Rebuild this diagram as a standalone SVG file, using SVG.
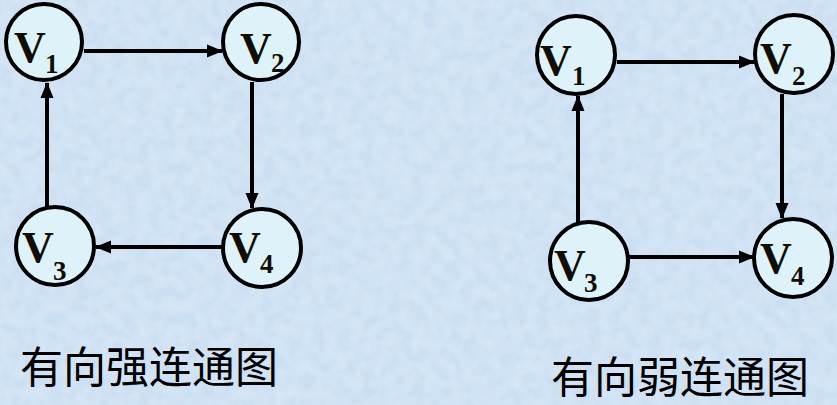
<svg xmlns="http://www.w3.org/2000/svg" width="837" height="405" viewBox="0 0 837 405">
<defs>
<style>
.bg{fill:#cfe2f4}
.node circle{fill:#ddf3f9;stroke:#000;stroke-width:4}
.v{font-family:"Liberation Serif","Times New Roman",serif;font-weight:bold;font-size:44px;fill:#110d05}
.s{font-size:27px}
.edge{stroke:#000;stroke-width:4;fill:none;marker-end:url(#arr)}
.cap{font-family:"Noto Sans CJK SC","Noto Sans",sans-serif;font-size:43px;fill:#000}
</style>
<marker id="arr" markerUnits="userSpaceOnUse" markerWidth="16" markerHeight="14" refX="15" refY="6.5" orient="auto" viewBox="0 0 16 13">
<path d="M0,0 L16,6.5 L0,13 Z" fill="#000"/>
</marker>
<filter id="tex" x="0" y="0" width="100%" height="100%">
<feTurbulence type="fractalNoise" baseFrequency="0.08" numOctaves="2" seed="3" result="n"/>
<feColorMatrix in="n" type="matrix" values="0 0 0 0 1  0 0 0 0 1  0 0 0 0 1  0 0 0 0.5 -0.15" result="w"/>
<feComposite in="w" in2="SourceGraphic" operator="over"/>
</filter>
</defs>
<rect class="bg" x="0" y="0" width="837" height="405"/>
<rect x="0" y="0" width="837" height="405" fill="#cbdff2" filter="url(#tex)" opacity="0.7"/>

<g id="connectors">
<line class="edge" x1="84" y1="51" x2="222" y2="51"/>
<line class="edge" x1="252" y1="82" x2="252" y2="208"/>
<line class="edge" x1="222" y1="247" x2="96" y2="247"/>
<line class="edge" x1="47" y1="206" x2="47" y2="83"/>
<line class="edge" x1="617" y1="62" x2="754" y2="62"/>
<line class="edge" x1="782" y1="94" x2="782" y2="218"/>
<line class="edge" x1="628" y1="257" x2="754" y2="257"/>
<line class="edge" x1="578" y1="222" x2="578" y2="96"/>
</g>

<g id="left-v1" class="node"><circle cx="44" cy="42" r="38"/><text class="v" x="14" y="62">V<tspan class="s" x="45" y="73">1</tspan></text></g>
<g id="left-v2" class="node"><circle cx="261" cy="42" r="38"/><text class="v" x="240" y="63">V<tspan class="s" x="271" y="72">2</tspan></text></g>
<g id="left-v3" class="node"><circle cx="55" cy="246" r="39"/><text class="v" x="22" y="262">V<tspan class="s" x="53" y="280">3</tspan></text></g>
<g id="left-v4" class="node"><circle cx="262" cy="248" r="39"/><text class="v" x="229" y="262">V<tspan class="s" x="260" y="273">4</tspan></text></g>

<g id="right-v1" class="node"><circle cx="576" cy="55" r="39"/><text class="v" x="540" y="75">V<tspan class="s" x="572" y="85">1</tspan></text></g>
<g id="right-v2" class="node"><circle cx="794" cy="54" r="39"/><text class="v" x="760" y="73">V<tspan class="s" x="792" y="85">2</tspan></text></g>
<g id="right-v3" class="node"><circle cx="589" cy="261" r="39"/><text class="v" x="554" y="280">V<tspan class="s" x="584" y="292">3</tspan></text></g>
<g id="right-v4" class="node"><circle cx="793" cy="258" r="39"/><text class="v" x="760" y="273">V<tspan class="s" x="791" y="285">4</tspan></text></g>

<g id="captions">
<text class="cap" x="20" y="383">有向强连通图</text>
<text class="cap" x="551" y="393">有向弱连通图</text>
</g>
</svg>
